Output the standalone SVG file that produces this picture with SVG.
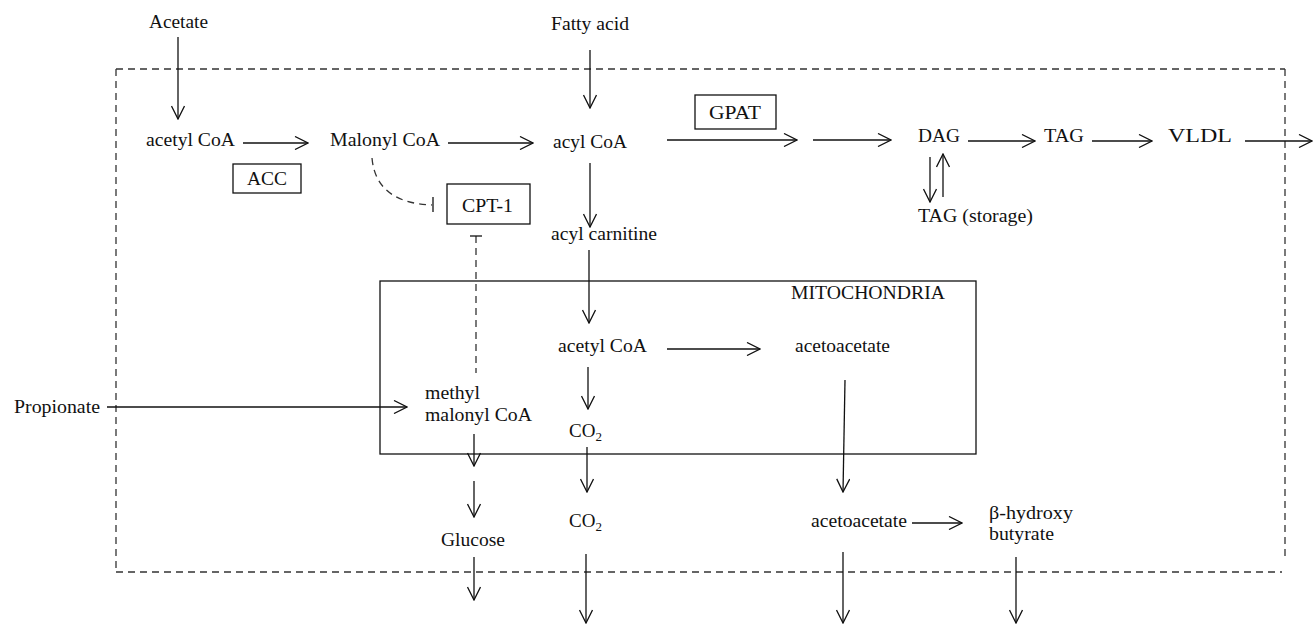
<svg xmlns="http://www.w3.org/2000/svg" width="1313" height="625" viewBox="0 0 1313 625">
<style>
text{font-family:"Liberation Serif","Times New Roman",serif;font-size:19px;fill:#111}
.ln{stroke:#111;stroke-width:1.3;fill:none}
.ar{stroke:#111;stroke-width:1.3;fill:none;marker-end:url(#ah)}
.dash{stroke:#333;stroke-width:1.3;fill:none;stroke-dasharray:7 5}
.box{fill:#fff;stroke:#111;stroke-width:1.3}
.sub{font-size:13px}
</style>
<defs>
<marker id="ah" viewBox="0 0 15 14" refX="14" refY="7" markerWidth="15" markerHeight="14" markerUnits="userSpaceOnUse" orient="auto">
<path d="M1,0.5 L14,7 L1,13.5" fill="none" stroke="#111" stroke-width="1.3"/>
</marker>
</defs>
<rect width="1313" height="625" fill="#fff"/>
<g id="cell">
<line class="dash" x1="116" y1="69" x2="1285" y2="69"/>
<line class="dash" x1="116" y1="69" x2="116" y2="572"/>
<line class="dash" x1="116" y1="572" x2="1282" y2="572"/>
<line class="dash" x1="1285" y1="69" x2="1285" y2="558"/>
</g>
<g id="mitochondria">
<rect x="380" y="281" width="596" height="173" fill="none" stroke="#111" stroke-width="1.3"/>
<text x="791" y="299" textLength="154" lengthAdjust="spacingAndGlyphs">MITOCHONDRIA</text>
</g>
<g id="connectors">
<line class="ar" x1="178" y1="37" x2="178" y2="119"/>
<line class="ar" x1="243" y1="143" x2="308" y2="143"/>
<line class="ar" x1="448" y1="143" x2="533" y2="143"/>
<line class="ar" x1="590" y1="50" x2="590" y2="108"/>
<line class="ar" x1="667" y1="140" x2="797" y2="140"/>
<line class="ar" x1="813" y1="140" x2="891" y2="140"/>
<line class="ar" x1="968" y1="141" x2="1035" y2="141"/>
<line class="ar" x1="1092" y1="141" x2="1152" y2="141"/>
<line class="ar" x1="1245" y1="141" x2="1312" y2="141"/>
<line class="ar" x1="930" y1="157" x2="930" y2="202"/>
<line class="ar" x1="943" y1="197" x2="943" y2="154"/>
<line class="ar" x1="590" y1="163" x2="590" y2="227"/>
<line class="ar" x1="589" y1="250" x2="589" y2="323"/>
<line class="ar" x1="667" y1="349" x2="760" y2="349"/>
<line class="ar" x1="588" y1="367" x2="588" y2="409"/>
<line class="ar" x1="587" y1="447" x2="587" y2="492"/>
<line class="ar" x1="586" y1="554" x2="586" y2="623"/>
<line class="ar" x1="845" y1="380" x2="843" y2="492"/>
<line class="ar" x1="843" y1="552" x2="843" y2="623"/>
<line class="ar" x1="912" y1="523" x2="962" y2="523"/>
<line class="ar" x1="1016" y1="557" x2="1016" y2="623"/>
<line class="ar" x1="107" y1="407" x2="407" y2="407"/>
<line class="ar" x1="474" y1="434" x2="474" y2="466"/>
<line class="ar" x1="474" y1="481" x2="474" y2="517"/>
<line class="ar" x1="474" y1="557" x2="474" y2="600"/>
<path class="dash" d="M372,158 Q376,203 432,205" stroke-dasharray="6 5"/>
<line class="ln" x1="433" y1="197" x2="433" y2="212"/>
<line class="dash" x1="476" y1="236" x2="476" y2="373" stroke-dasharray="7 5"/>
<line class="ln" x1="470" y1="236" x2="482" y2="236"/>
</g>
<g id="acetate"><text x="149" y="28" textLength="59" lengthAdjust="spacingAndGlyphs">Acetate</text></g>
<g id="fatty-acid"><text x="551" y="30" textLength="78" lengthAdjust="spacingAndGlyphs">Fatty acid</text></g>
<g id="acetyl-coa"><text x="146" y="146" textLength="89" lengthAdjust="spacingAndGlyphs">acetyl CoA</text></g>
<g id="malonyl-coa"><text x="330" y="146" textLength="110" lengthAdjust="spacingAndGlyphs">Malonyl CoA</text></g>
<g id="acyl-coa"><text x="553" y="148" textLength="74" lengthAdjust="spacingAndGlyphs">acyl CoA</text></g>
<g id="acc"><rect class="box" x="233" y="164" width="68" height="29"/><text x="247" y="185" textLength="40" lengthAdjust="spacingAndGlyphs">ACC</text></g>
<g id="cpt1"><rect class="box" x="447" y="184" width="83" height="40"/><text x="462" y="212" textLength="51" lengthAdjust="spacingAndGlyphs">CPT-1</text></g>
<g id="gpat"><rect class="box" x="695" y="95" width="81" height="34"/><text x="709" y="119" textLength="52" lengthAdjust="spacingAndGlyphs">GPAT</text></g>
<g id="dag"><text x="918" y="142" textLength="42" lengthAdjust="spacingAndGlyphs">DAG</text></g>
<g id="tag"><text x="1044" y="142" textLength="40" lengthAdjust="spacingAndGlyphs">TAG</text></g>
<g id="vldl"><text x="1168" y="142" textLength="64" lengthAdjust="spacingAndGlyphs">VLDL</text></g>
<g id="tag-storage"><text x="918" y="222" textLength="115" lengthAdjust="spacingAndGlyphs">TAG (storage)</text></g>
<g id="acyl-carnitine"><text x="551" y="240" textLength="106" lengthAdjust="spacingAndGlyphs">acyl carnitine</text></g>
<g id="mito-acetyl-coa"><text x="558" y="352" textLength="89" lengthAdjust="spacingAndGlyphs">acetyl CoA</text></g>
<g id="mito-acetoacetate"><text x="795" y="352" textLength="95" lengthAdjust="spacingAndGlyphs">acetoacetate</text></g>
<g id="propionate"><text x="14" y="413" textLength="86" lengthAdjust="spacingAndGlyphs">Propionate</text></g>
<g id="methylmalonyl-coa"><text x="425" y="399" textLength="55" lengthAdjust="spacingAndGlyphs">methyl</text><text x="425" y="421" textLength="107" lengthAdjust="spacingAndGlyphs">malonyl CoA</text></g>
<g id="mito-co2"><text x="569" y="437">CO<tspan class="sub" dy="4">2</tspan></text></g>
<g id="co2"><text x="569" y="527">CO<tspan class="sub" dy="4">2</tspan></text></g>
<g id="glucose"><text x="441" y="546" textLength="64" lengthAdjust="spacingAndGlyphs">Glucose</text></g>
<g id="acetoacetate"><text x="811" y="527" textLength="96" lengthAdjust="spacingAndGlyphs">acetoacetate</text></g>
<g id="hydroxybutyrate"><text x="989" y="519" textLength="84" lengthAdjust="spacingAndGlyphs">β-hydroxy</text><text x="989" y="540" textLength="65" lengthAdjust="spacingAndGlyphs">butyrate</text></g>
</svg>
